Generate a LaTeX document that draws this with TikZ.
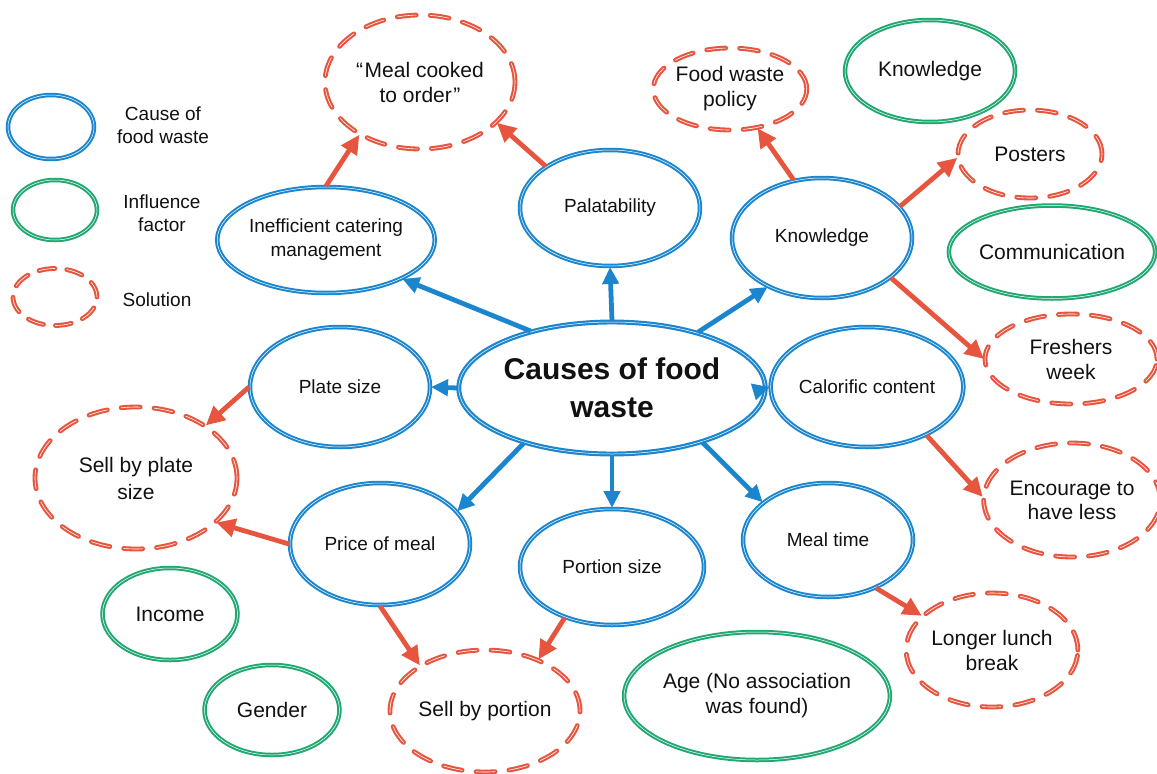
\documentclass[tikz,border=0pt]{standalone}
\usepackage{fontspec}
\setmainfont{Liberation Sans}
\usetikzlibrary{shapes.geometric,arrows.meta}
\definecolor{cblue}{RGB}{27,134,206}
\definecolor{cgreen}{RGB}{33,168,114}
\definecolor{cred}{RGB}{232,85,63}
\definecolor{ctext}{RGB}{17,17,17}
\begin{document}
\begin{tikzpicture}[x=1pt,y=-1pt,
  every node/.style={text=ctext},
  base/.style={ellipse, inner sep=0pt, align=center, double=white, double distance=0.5pt, line width=2pt},
  cause/.style={base, draw=cblue, font=\fontsize{19}{24}\selectfont},
  factor/.style={base, draw=cgreen, font=\fontsize{21}{25}\selectfont},
  solution/.style={base, draw=cred, double distance=0.6pt, line width=2.1pt, dash pattern=on 19pt off 14pt, line cap=round, font=\fontsize{21}{25}\selectfont},
  sz/.style 2 args={minimum width=#1pt, minimum height=#2pt},
  legtext/.style={align=center, font=\fontsize{19}{23}\selectfont},
  barrow/.style={draw=cblue, line width=4.8pt, -{Triangle[length=17pt,width=16pt]}},
  rarrow/.style={draw=cred, line width=4.8pt, -{Triangle[length=19pt,width=18pt]}}
]
\useasboundingbox (0,0) rectangle (1157,774);
\fill[white] (0,0) rectangle (1157,774);

% legend
\node[cause, sz={86}{64}] (lcause) at (51,127) {};
\node[factor, sz={84}{60}] (lfactor) at (55,210) {};
\node[solution, sz={84}{57}, dash pattern=on 16pt off 12pt] (lsol) at (55,297) {};
\node[legtext] (tcause) at (163,125) {Cause of\\food waste};
\node[legtext] (tfactor) at (162,213) {Influence\\factor};
\node[legtext] (tsol) at (157,300) {Solution};

% centre
\node[cause, line width=2.2pt, sz={280}{132}, font=\bfseries\fontsize{30}{38}\selectfont] (C) at (612,388) {Causes of food\\waste};

% causes
\node[cause, sz={208}{106}] (ineff) at (326,240) {Inefficient catering\\management};
\node[cause, sz={180}{116}] (pal) at (610,208) {Palatability};
\node[cause, sz={180}{120}] (know) at (822,238) {Knowledge};
\node[cause, sz={180}{120}] (plate) at (340,387) {Plate size};
\node[cause, sz={180}{120}] (cal) at (867,387) {Calorific content};
\node[cause, sz={180}{122}] (price) at (380,544) {Price of meal};
\node[cause, sz={184}{116}] (portion) at (612,567) {Portion size};
\node[cause, sz={170}{114}] (meal) at (828,540) {Meal time};

% solutions
\node[solution, sz={190}{134}] (mealc) at (420,82) {“\kern1.5pt Meal cooked\\to order\kern1.5pt ”};
\node[solution, sz={140}{82}] (fwp) at (730,89) {Food waste\\policy};
\node[solution, sz={144}{88}] (posters) at (1030,154) {Posters};
\node[solution, sz={172}{90}] (freshers) at (1071,359) {Freshers\\week};
\node[solution, sz={166}{114}, font=\fontsize{21}{24}\selectfont] (enc) at (1072,500) {Encourage to\\have less};
\node[solution, sz={202}{142}, font=\fontsize{21}{27}\selectfont] (sellplate) at (136,478) {Sell by plate\\size};
\node[solution, sz={190}{122}] (sellportion) at (485,711) {Sell by portion};
\node[solution, sz={166}{114}] (longer) at (992,650) {Longer lunch\\break};

% influence factors
\node[factor, sz={170}{102}] (gknow) at (930,71) {Knowledge};
\node[factor, sz={180}{93}] (comm) at (1052,252) {Communication};
\node[factor, sz={135}{92}] (income) at (170,614) {Income};
\node[factor, sz={135}{90}] (gender) at (272,710) {Gender};
\node[factor, sz={245}{128}] (age) at (757,696) {Age (No association\\was found)};

% blue connectors
\draw[barrow] (C.145) -- (ineff.-27);
\draw[barrow] (C.north) -- (pal.south);
\draw[barrow] (C.33) -- (know.222);
\draw[barrow] (C.west) -- (plate.east);
\draw[barrow] (C.east) -- (cal.west);
\draw[barrow] (C.212) -- (price.23);
\draw[barrow] (C.south) -- (portion.north);
\draw[barrow] (C.329) -- (meal.150);

% red connectors
\draw[rarrow] (ineff.north) -- (mealc.221);
\draw[rarrow] (pal.147) -- (mealc.-28);
\draw[rarrow] (know.116) -- (fwp.-55);
\draw[rarrow] (know.22) -- (posters.183);
\draw[rarrow] (know.-30) -- (freshers.180);
\draw[rarrow] (cal.-39) -- (enc.178);
\draw[rarrow] (plate.west) -- (sellplate.37);
\draw[rarrow] (price.west) -- (sellplate.-29);
\draw[rarrow] (price.south) -- (sellportion.145);
\draw[rarrow] (portion.227) -- (sellportion.44);
\draw[rarrow] (meal.-45) -- (longer.154);
\end{tikzpicture}
\end{document}
